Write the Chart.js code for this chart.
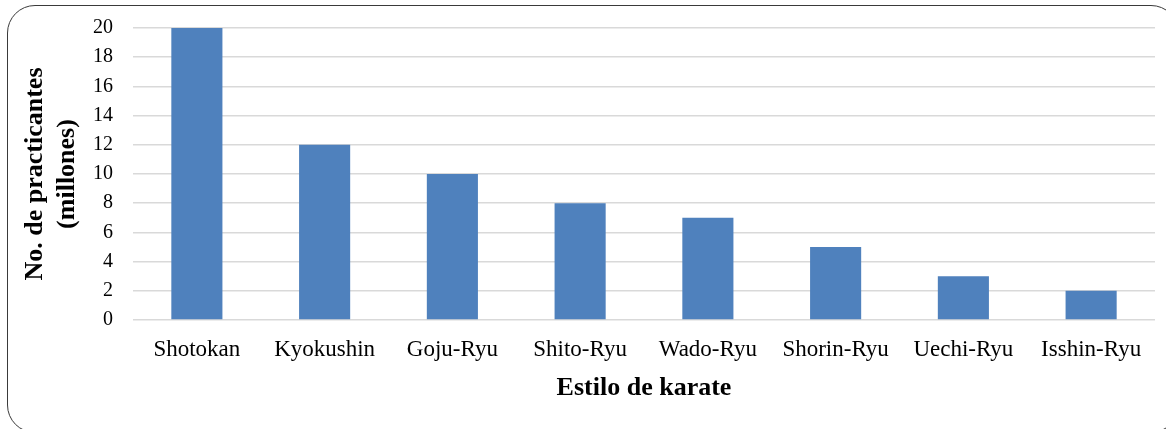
<!DOCTYPE html>
<html>
<head>
<meta charset="utf-8">
<script src="https://cdn.jsdelivr.net/npm/chart.js@4/dist/chart.umd.min.js"></script>
<style>
  html, body { margin: 0; padding: 0; background: #fff; overflow: hidden; }
  #wrap { position: relative; width: 1166px; height: 429px; }
  #frame {
    position: absolute; left: 7px; top: 5px; width: 1172px; height: 428px;
    border: 1.5px solid #3a3a3a; border-radius: 28px; box-sizing: border-box;
  }
  canvas { position: absolute; left: 0; top: 0; }
</style>
</head>
<body>
<div id="wrap">
  <div id="frame"></div>
  <canvas id="c" width="1166" height="429"></canvas>
</div>
<script>
const categories = ['Shotokan', 'Kyokushin', 'Goju-Ryu', 'Shito-Ryu', 'Wado-Ryu', 'Shorin-Ryu', 'Uechi-Ryu', 'Isshin-Ryu'];
const practitioners = [20, 12, 10, 8, 7, 5, 3, 2];
const yTitle = ['No. de practicantes', '(millones)'];
const xTitle = 'Estilo de karate';

const serif = '"Liberation Serif", "DejaVu Serif", serif';

// plot area edges inside the 1166x429 canvas
const AREA = { left: 133, right: 1155, top: 28, bottom: 320 };

new Chart(document.getElementById('c'), {
  type: 'bar',
  data: {
    labels: categories,
    datasets: [{
      data: practitioners,
      backgroundColor: '#4f81bd',
      borderWidth: 0,
      categoryPercentage: 0.4,
      barPercentage: 1.0
    }]
  },
  options: {
    responsive: false,
    animation: false,
    layout: { padding: { left: 20, right: 1166 - AREA.right, top: AREA.top, bottom: 25 } },
    plugins: { legend: { display: false }, tooltip: { enabled: false } },
    scales: {
      x: {
        grid: { display: false, drawTicks: false },
        border: { display: false },
        ticks: { color: '#000', font: { family: serif, size: 23 }, padding: 16, maxRotation: 0 },
        title: { display: true, text: xTitle, color: '#000', font: { family: serif, size: 26, weight: 'bold' }, padding: { top: 4, bottom: 0 } },
        afterFit: s => { s.height = 429 - AREA.bottom - 25; s.paddingTop = 0; s.paddingBottom = 0; }
      },
      y: {
        min: 0, max: 20,
        ticks: { stepSize: 2, color: '#000', font: { family: serif, size: 20 }, padding: 20 },
        grid: { color: '#d9d9d9', lineWidth: 1.5, drawTicks: false },
        border: { display: false },
        title: { display: true, text: yTitle, color: '#000', font: { family: serif, size: 26, weight: 'bold' }, padding: { top: 0, bottom: 4 } },
        afterFit: s => { s.width = AREA.left - 20; s.paddingTop = 0; s.paddingBottom = 0; }
      }
    }
  }
});
</script>
</body>
</html>
